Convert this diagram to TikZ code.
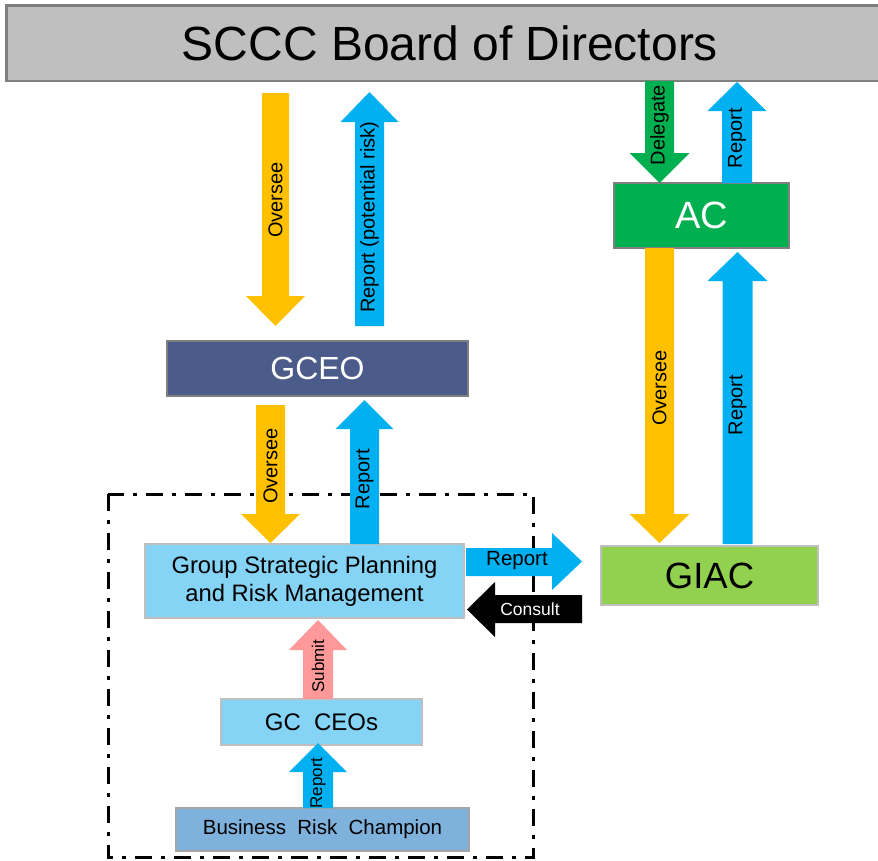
\documentclass[tikz,border=0pt]{standalone}
\usepackage{fontspec}
\setmainfont{Liberation Sans}
\definecolor{orangeA}{HTML}{FFC000}
\definecolor{blueA}{HTML}{00B0F0}
\definecolor{greenA}{HTML}{00B050}
\definecolor{giacG}{HTML}{92D050}
\definecolor{lightB}{HTML}{85D3F5}
\definecolor{brcB}{HTML}{7EB2DD}
\definecolor{pinkA}{HTML}{FF9999}
\definecolor{gceoB}{HTML}{4B5C8A}
\definecolor{boardG}{HTML}{BFBFBF}
\definecolor{lineD}{HTML}{7F7F7F}
\definecolor{lineL}{HTML}{BFBFBF}
\newcommand{\VArr}[7]{%
  \fill[#1] ({#2-#6},#3) -- ({#2-#6},#4) -- ({#2-#7},#4) -- (#2,#5) -- ({#2+#7},#4) -- ({#2+#6},#4) -- ({#2+#6},#3) -- cycle;}
\begin{document}
\begin{tikzpicture}[x=1pt,y=-1pt,
  box/.style={line width=1.5pt, inner sep=0pt, align=center},
  lbl/.style={rotate=90, inner sep=0pt, font=\fontsize{20}{23}\selectfont},
  slbl/.style={rotate=90, inner sep=0pt, font=\fontsize{17}{20}\selectfont}]
\useasboundingbox (0,0) rectangle (878,860);
% frame
\draw[line width=3pt, dash pattern=on 17pt off 9pt on 4pt off 9pt] (108,494) rectangle (533,857);
% board
\node[box, fill=boardG, minimum width=871pt, minimum height=74pt, font=\fontsize{48}{52}\selectfont] (board) at (442.5,43) {\hspace*{15pt}SCCC Board of Directors};
\draw[lineD, line width=2.5pt] (board.north east) -- (board.north west) -- (board.south west) -- (board.south east);
% boxes
\node[box, draw=lineD, fill=gceoB, text=white, minimum width=301pt, minimum height=55pt, font=\fontsize{32}{36}\selectfont] (gceo) at (317.5,368.5) {GCEO};
\node[box, draw=lineD, fill=greenA, text=white, minimum width=175pt, minimum height=65pt, font=\fontsize{38}{42}\selectfont] (ac) at (701.5,215.5) {AC};
\node[box, draw=lineL, fill=giacG, minimum width=217pt, minimum height=59pt, font=\fontsize{36.5}{40}\selectfont] (giac) at (709.5,575.5) {GIAC};
\node[box, draw=lineL, fill=lightB, minimum width=319pt, minimum height=74pt, font=\fontsize{23.8}{28}\selectfont] (gsprm) at (304.5,581) {Group Strategic Planning\\and Risk Management};
\node[box, draw=lineL, fill=lightB, minimum width=201pt, minimum height=46pt, font=\fontsize{24}{28}\selectfont] (gcceo) at (321.5,722) {GC\ \ CEOs};
\node[box, draw=lineD!70, fill=brcB, minimum width=293pt, minimum height=43pt, font=\fontsize{20.5}{24}\selectfont] (brc) at (322.5,829.5) {Business\ \ Risk\ \ Champion};
% vertical arrows
\VArr{orangeA}{275.5}{93}{296}{326}{13.5}{29.5}
\VArr{blueA}{369.5}{326}{122}{92}{14.5}{29}
\VArr{greenA}{659.5}{81}{153}{183}{14.5}{30}
\VArr{blueA}{737}{183}{111}{82}{15}{29.5}
\VArr{orangeA}{659.5}{248}{514}{543}{14.5}{30}
\VArr{blueA}{737.5}{544}{281}{252}{15}{30}
\VArr{orangeA}{270.5}{405}{514}{543}{14.5}{29.5}
\VArr{blueA}{364.5}{544}{429}{400}{14.5}{29}
\VArr{pinkA}{318}{699}{650}{620}{15}{29}
\VArr{blueA}{318}{808}{772}{743}{15}{29}
% horizontal arrows
\fill[blueA] (466,548) -- (552,548) -- (552,533) -- (582,561.5) -- (552,590) -- (552,576) -- (466,576) -- cycle;
\fill[black] (582,595) -- (495,595) -- (495,582) -- (467,609.5) -- (495,637) -- (495,623) -- (582,623) -- cycle;
% labels
\node[lbl] (l1) at (275.5,200) {Oversee};
\node[lbl] (l2) at (369.5,217) {Report (potential risk)};
\node[lbl] (l3) at (659.5,125) {Delegate};
\node[lbl] (l4) at (737,138) {Report};
\node[lbl] (l5) at (659.5,388) {Oversee};
\node[lbl] (l6) at (737.5,405) {Report};
\node[lbl] (l7) at (270.5,466) {Oversee};
\node[lbl] (l8) at (364.5,479) {Report};
\node[slbl] (l9) at (318,666) {Submit};
\node[slbl] (l10) at (318,783) {Report};
\node[inner sep=0pt, font=\fontsize{20.5}{23}\selectfont] (l11) at (517,561) {Report};
\node[inner sep=0pt, text=white, font=\fontsize{17.5}{20}\selectfont] (l12) at (530,609) {Consult};
\end{tikzpicture}
\end{document}
